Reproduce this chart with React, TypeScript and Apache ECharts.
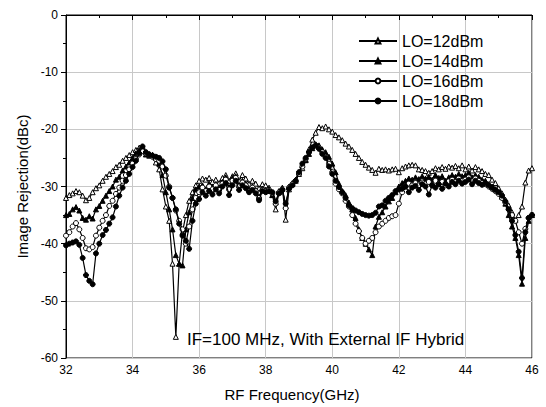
import React, { useEffect, useRef } from "react";
import * as echarts from "echarts";

const FREQ: number[] = Array.from({ length: 141 }, (_, i) => Math.round((32 + i * 0.1) * 10) / 10);

const LO12: number[] = [
  -32.0, -31.5, -31.2, -30.8, -31.0, -31.6, -32.4, -32.0, -31.0, -30.3,
  -29.8, -29.0, -28.3, -27.8, -27.3, -26.6, -26.2, -25.5, -25.0, -24.5,
  -24.0, -23.6, -23.2, -23.0, -24.0, -24.3, -24.5, -25.8, -27.0, -30.5,
  -33.5, -36.0, -43.5, -56.3, -43.5, -38.0, -35.0, -32.5, -31.0, -29.8,
  -29.0, -28.6, -28.8, -28.5, -29.2, -28.8, -29.4, -28.5, -28.0, -29.0,
  -28.2, -27.7, -29.0, -28.0, -28.6, -29.5, -29.0, -29.5, -30.3, -29.6,
  -29.8, -30.2, -31.5, -34.0, -31.0, -30.2, -35.8, -30.5, -29.6, -29.0,
  -27.8, -26.8, -25.3, -23.5, -21.8, -20.6, -19.6, -19.8, -19.5, -20.0,
  -20.4, -21.0, -21.4, -21.9, -22.5, -23.0, -23.6, -24.3, -25.0, -25.7,
  -26.2, -26.7, -27.1, -27.6, -26.9, -27.1, -27.0, -27.2, -27.0, -26.9,
  -27.5, -26.8, -26.5, -26.3, -26.2, -26.3, -27.0, -27.1, -27.3, -27.6,
  -27.3, -26.8, -27.0, -26.6, -26.9, -26.5, -26.7, -26.4, -26.8, -26.3,
  -27.0, -26.5, -27.2, -26.6, -27.0, -27.3, -27.8, -28.0, -28.8, -29.4,
  -30.3, -31.2, -32.3, -33.3, -34.5, -35.9, -35.0, -33.5, -29.3, -27.2,
  -26.8,
];

const LO14: number[] = [
  -35.0, -34.8, -34.0, -33.6, -34.2, -35.5, -35.8, -35.2, -35.6, -34.0,
  -33.4, -32.5, -31.6, -30.8, -30.0, -28.8, -28.3, -27.2, -26.5, -25.8,
  -25.0, -24.2, -23.6, -23.4, -24.4, -24.6, -24.5, -25.0, -26.0, -28.0,
  -31.0, -34.0, -37.5, -42.0, -43.5, -43.8, -37.5, -34.5, -32.0, -30.5,
  -30.0, -29.8, -30.5, -29.5, -30.0, -29.6, -30.4, -29.2, -28.4, -30.2,
  -28.5, -28.2, -29.8, -29.0, -29.5, -30.5, -30.0, -30.6, -31.8, -30.4,
  -30.6, -30.5, -31.5, -32.8, -30.8, -30.4, -33.5, -30.0, -29.4, -28.8,
  -27.5, -26.3, -25.4, -24.3, -23.3, -22.6, -22.8, -23.5, -24.0, -24.8,
  -26.0, -27.5, -29.5, -30.8, -31.5, -32.8, -34.0, -35.5, -37.5, -39.0,
  -40.0, -41.0, -42.0, -37.0, -35.3, -34.5, -33.5, -32.6, -32.0, -31.0,
  -30.0, -29.4, -29.0, -28.6, -28.8, -28.4, -28.7, -28.2, -28.6, -28.3,
  -28.8, -28.0, -28.5, -28.2, -29.0, -28.4, -28.0, -28.3, -27.8, -28.2,
  -28.0, -27.6, -28.4, -28.0, -28.3, -28.8, -29.0, -29.6, -30.0, -30.5,
  -31.0, -31.8, -33.0, -35.0, -37.0, -39.0, -42.0, -47.0, -39.0, -36.0,
  -35.0,
];

const LO16: number[] = [
  -38.6, -38.0, -37.0, -36.4, -37.5, -39.0, -40.8, -41.0, -40.6, -38.6,
  -37.2, -36.0, -35.0, -33.4, -32.5, -31.3, -30.2, -29.0, -28.0, -27.0,
  -26.0, -25.2, -24.4, -23.8, -24.2, -24.5, -24.8, -25.2, -25.5, -26.5,
  -28.1, -30.0, -32.0, -34.2, -36.0, -37.5, -40.0, -37.0, -34.0, -32.0,
  -31.0, -30.2, -30.8, -30.0, -30.5, -29.8, -30.6, -29.5, -28.8, -30.5,
  -29.0, -28.5, -30.0, -29.3, -29.8, -30.8, -30.2, -30.8, -32.0, -30.6,
  -30.8, -30.6, -31.2, -33.0, -31.0, -30.5, -33.8, -30.2, -29.6, -29.0,
  -27.8, -26.5, -25.2, -24.0, -23.2, -22.8, -23.2, -24.0, -24.8, -26.0,
  -27.5, -29.5, -30.5, -31.2, -32.5, -33.5, -35.0, -36.5, -37.8, -39.0,
  -40.0, -39.5, -39.0, -38.0, -37.0, -36.5, -36.0, -35.5, -35.2, -35.0,
  -33.0, -31.0, -30.0, -29.5, -29.8, -29.4, -29.8, -29.3, -29.6, -29.2,
  -29.8, -29.0, -29.5, -29.2, -29.8, -29.1, -28.8, -29.2, -28.6, -29.0,
  -28.8, -28.4, -29.0, -28.6, -29.0, -29.4, -29.6, -30.0, -30.4, -30.8,
  -31.3, -32.0, -32.8, -34.0, -35.0, -36.0, -38.0, -40.0, -37.4, -35.5,
  -35.0,
];

const LO18: number[] = [
  -40.3, -40.0, -39.8, -39.6, -40.2, -42.5, -45.5, -46.5, -47.1, -41.7,
  -40.0, -38.5, -37.6, -36.5, -35.4, -33.5, -31.6, -30.2, -29.0, -27.8,
  -26.6, -25.5, -24.2, -23.0, -24.0, -24.4, -24.6, -24.8, -25.0, -25.6,
  -27.0, -30.2, -32.0, -34.0, -36.5, -38.6, -39.5, -40.9, -36.0, -33.0,
  -32.2, -31.0, -31.6, -30.8, -31.4, -30.5, -31.2, -30.0, -29.4, -31.5,
  -29.8, -29.0, -30.6, -29.8, -30.3, -31.0, -30.6, -31.2, -32.4, -30.8,
  -31.0, -30.8, -31.0, -32.6, -31.2, -30.6, -33.0, -30.4, -29.8, -29.0,
  -27.5, -26.0, -25.0, -24.0, -23.2, -22.8, -23.4, -24.3, -25.0, -26.5,
  -27.8, -29.0, -30.1, -31.0, -32.0, -33.3, -33.8, -34.2, -34.5, -34.8,
  -35.0, -35.1, -35.0, -34.6, -33.5, -33.3, -32.5, -32.0, -31.5, -30.8,
  -30.5, -30.4, -30.0, -31.0, -30.2, -29.9, -30.6, -29.6, -30.0, -31.4,
  -29.8, -30.2, -29.6, -30.4, -29.5, -30.0, -29.2, -29.6, -29.0, -29.5,
  -29.2, -28.8, -29.6, -29.0, -29.4, -29.7, -29.4, -29.8, -30.2, -30.6,
  -31.0, -31.6, -32.6, -34.0, -36.0, -38.5, -41.4, -46.0, -38.0, -35.5,
  -35.0,
];

const SERIES_NAMES = ["LO=12dBm", "LO=14dBm", "LO=16dBm", "LO=18dBm"];
const SERIES_VALUES = [LO12, LO14, LO16, LO18];
const SYMBOLS = ["triangle", "triangle", "circle", "circle"];
const FILLS = ["#ffffff", "#000000", "#ffffff", "#000000"];

const Y_TICKS = [0, -10, -20, -30, -40, -50, -60];
const X_TICKS = [32, 34, 36, 38, 40, 42, 44, 46];

const FONT = "'Liberation Sans', Arial, Helvetica, sans-serif";

export default function App() {
  const ref = useRef<HTMLDivElement>(null);
  useEffect(() => {
    if (!ref.current) return;
    const chart = echarts.init(ref.current, undefined, { renderer: "svg" });
    const series = SERIES_NAMES.map((name, k) => ({
      name,
      type: "line",
      data: FREQ.map((f, i) => [f, SERIES_VALUES[k][i]]),
      symbol: SYMBOLS[k],
      symbolSize: 5,
      showSymbol: true,
      showAllSymbol: true,
      lineStyle: { color: "#000", width: 1.2 },
      itemStyle: { color: FILLS[k], borderColor: "#000", borderWidth: 1 },
      emphasis: { disabled: true },
      z: 2 + k,
    }));
    chart.setOption({
      animation: false,
      backgroundColor: "#fff",
      textStyle: { fontFamily: FONT },
      grid: {
        left: 66,
        right: 14,
        top: 15,
        bottom: 47,
        show: true,
        borderColor: "#000",
        borderWidth: 1,
        backgroundColor: "transparent",
      },
      legend: {
        orient: "vertical",
        left: 358,
        top: 33,
        itemWidth: 38,
        itemHeight: 6,
        itemGap: 4,
        padding: 0,
        textStyle: { fontSize: 16, color: "#000", fontFamily: FONT, lineHeight: 16 },
        data: SERIES_NAMES,
      },
      xAxis: {
        type: "value",
        min: X_TICKS[0],
        max: X_TICKS[X_TICKS.length - 1],
        interval: 2,
        name: "RF Frequency(GHz)",
        nameLocation: "middle",
        nameGap: 29,
        nameTextStyle: { fontSize: 15, color: "#000", fontFamily: FONT, padding: [0, 14, 0, 0] },
        axisLine: { show: true, lineStyle: { color: "#000", width: 1 } },
        axisTick: { show: true, length: 5, lineStyle: { color: "#000" } },
        minorTick: { show: true, splitNumber: 2, length: 3, lineStyle: { color: "#000" } },
        axisLabel: { fontSize: 12, color: "#000", margin: 6, fontFamily: FONT },
        splitLine: { show: true, lineStyle: { color: "#c8c8c8", width: 1 } },
      },
      yAxis: {
        type: "value",
        min: Y_TICKS[Y_TICKS.length - 1],
        max: Y_TICKS[0],
        interval: 10,
        name: "Image Rejection(dBc)",
        nameLocation: "middle",
        nameGap: 36,
        nameTextStyle: { fontSize: 15, color: "#000", fontFamily: FONT },
        axisLine: { show: true, lineStyle: { color: "#000", width: 1 } },
        axisTick: { show: true, length: 5, lineStyle: { color: "#000" } },
        minorTick: { show: true, splitNumber: 2, length: 3, lineStyle: { color: "#000" } },
        axisLabel: { fontSize: 12, color: "#000", margin: 8, fontFamily: FONT },
        splitLine: { show: true, lineStyle: { color: "#c8c8c8", width: 1 } },
      },
      graphic: [
        {
          type: "text",
          left: 187,
          top: 331,
          style: {
            text: "IF=100 MHz, With External IF Hybrid",
            fontSize: 17,
            fill: "#000",
            fontFamily: FONT,
          },
          z: 100,
        },
      ],
      series,
    });
    return () => chart.dispose();
  }, []);
  return (
    <div
      ref={ref}
      style={{ position: "absolute", left: 0, top: 0, width: 546, height: 407 }}
    />
  );
}
